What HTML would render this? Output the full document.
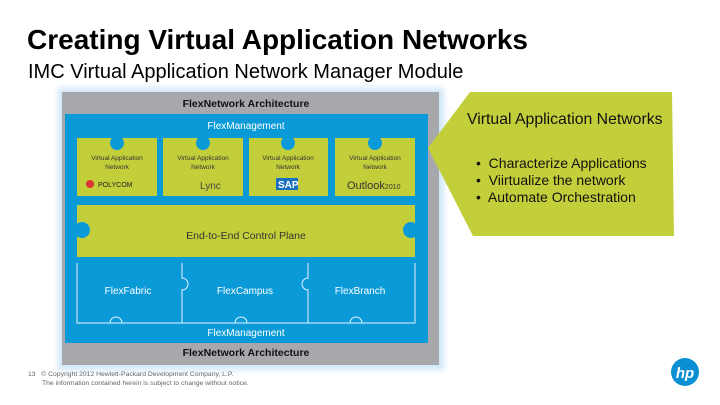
<!DOCTYPE html>
<html><head><meta charset="utf-8"><style>
body{margin:0;width:720px;height:405px;background:#fff;position:relative;overflow:hidden;font-family:"Liberation Sans",sans-serif}
.a{position:absolute;white-space:nowrap}
</style></head><body>
<div class="a" style="left:27px;top:24px;font-size:28px;font-weight:bold;color:#000">Creating Virtual Application Networks</div>
<div class="a" style="left:28px;top:61px;font-size:20px;color:#000">IMC Virtual Application Network Manager Module</div>
<svg class="a" style="left:0;top:0" width="720" height="405">
<defs><filter id="g"><feGaussianBlur stdDeviation="3"/></filter></defs>
<rect x="58" y="88" width="386" height="282" fill="#cfe6f7" filter="url(#g)"/>
<rect x="62" y="92" width="377" height="273" fill="#a6a8ab"/>
<rect x="65" y="114" width="363" height="229" fill="#0a9ad8"/>
<g font-family="Liberation Sans" font-weight="bold" font-size="10.5" fill="#111" text-anchor="middle">
<text x="246" y="107">FlexNetwork Architecture</text>
<text x="246" y="356">FlexNetwork Architecture</text></g>
<g font-family="Liberation Sans" font-size="10" fill="#fff" text-anchor="middle">
<text x="246" y="129">FlexManagement</text>
<text x="246" y="336">FlexManagement</text></g>
<g fill="#c3cf3a">
<rect x="77" y="138" width="80" height="58"/>
<rect x="163" y="138" width="80" height="58"/>
<rect x="249" y="138" width="79" height="58"/>
<rect x="335" y="138" width="80" height="58"/>
<rect x="77" y="205" width="338" height="52"/>
</g>
<g fill="#0a9ad8">
<circle cx="117" cy="143" r="7"/><circle cx="203" cy="143" r="7"/><circle cx="288" cy="143" r="7"/><circle cx="375" cy="143" r="7"/>
<circle cx="82" cy="230" r="8"/><circle cx="411" cy="230" r="8"/>
</g>
<g font-family="Liberation Sans" font-size="6.5" fill="#333" text-anchor="middle">
<text x="117" y="160">Virtual Application</text><text x="117" y="169">Network</text>
<text x="203" y="160">Virtual Application</text><text x="203" y="169">Network</text>
<text x="288" y="160">Virtual Application</text><text x="288" y="169">Network</text>
<text x="375" y="160">Virtual Application</text><text x="375" y="169">Network</text>
</g>
<text x="98" y="187" font-family="Liberation Sans" font-size="7" fill="#222">POLYCOM</text>
<circle cx="90" cy="184" r="4" fill="#d33"/>
<text x="200" y="189" font-family="Liberation Sans" font-size="10" fill="#444">Lync</text>
<rect x="276" y="178" width="22" height="12" fill="#1a6fc0"/><text x="278" y="188" font-family="Liberation Sans" font-weight="bold" font-size="10" fill="#fff">SAP</text>
<text x="347" y="189" font-family="Liberation Sans" font-size="11" fill="#333">Outlook<tspan font-size="7">2010</tspan></text>
<text x="246" y="239" font-family="Liberation Sans" font-size="10.5" fill="#333" text-anchor="middle">End-to-End Control Plane</text>
<g fill="none" stroke="#e6f4fb" stroke-width="1">
<path d="M77 263 V323 H415 V263 M182 263 V278 a6 6 0 1 1 0 12 V323 M308 263 V278 a6 6 0 1 0 0 12 V323 M110 323 a6 6 0 1 1 12 0 M235 323 a6 6 0 1 1 12 0 M350 323 a6 6 0 1 1 12 0"/>
</g>
<g font-family="Liberation Sans" font-size="10" fill="#fff" text-anchor="middle">
<text x="128" y="294">FlexFabric</text><text x="245" y="294">FlexCampus</text><text x="360" y="294">FlexBranch</text></g>
<polygon points="470,92 672,92 674,236 473,236 428,148" fill="#c3cf3a"/>
<circle cx="685" cy="372" r="14" fill="#0a8fd3"/>
<text x="685" y="378" font-family="Liberation Sans" font-weight="bold" font-style="italic" font-size="15" fill="#fff" text-anchor="middle">hp</text>
</svg>
<div class="a" style="left:467px;top:111px;font-size:15.8px;color:#111">Virtual Application Networks</div>
<div class="a" style="left:476px;top:155px;font-size:14px;line-height:17px;color:#111">•&nbsp; Characterize Applications<br>•&nbsp; Viirtualize the network<br>•&nbsp; Automate Orchestration</div>
<div class="a" style="left:28px;top:371px;font-size:6.8px;line-height:8.5px;color:#666">13&nbsp;&nbsp; © Copyright 2012 Hewlett-Packard Development Company, L.P.<br><span style="padding-left:14px">The information contained herein is subject to change without notice.</span></div>
</body></html>
